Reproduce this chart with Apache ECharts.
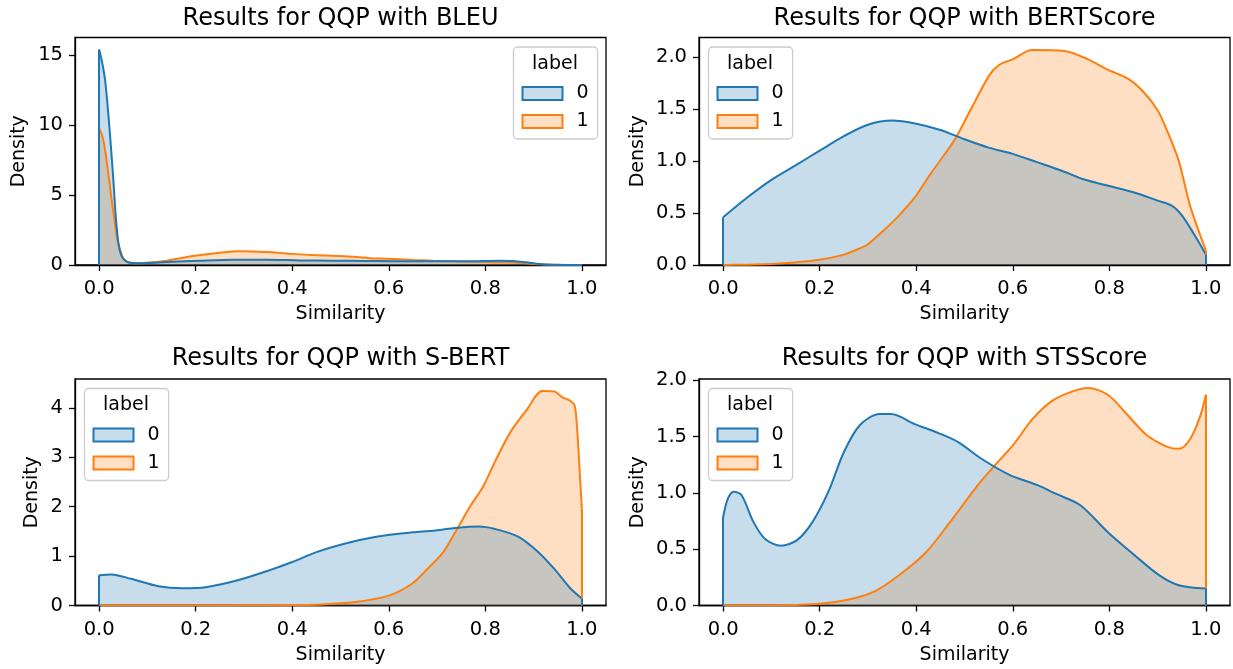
<!DOCTYPE html>
<html><head><meta charset="utf-8">
<script src="https://cdn.jsdelivr.net/npm/echarts@6/dist/echarts.min.js"></script>
<style>html,body{margin:0;padding:0;background:#fff}#c{width:1233px;height:669px}</style>
</head><body><div id="c"></div>
<script>
const titles = ['Results for QQP with BLEU', 'Results for QQP with BERTScore', 'Results for QQP with S-BERT', 'Results for QQP with STSScore'];
const labels = ['0', '1'];
const xTicks = [0, 0.2, 0.4, 0.6, 0.8, 1.0];
const yTicksBleu = [0, 5, 10, 15];
const yTicksBert = [0, 0.5, 1.0, 1.5, 2.0];
const yTicksSbert = [0, 1, 2, 3, 4];
const yTicksSts = [0, 0.5, 1.0, 1.5, 2.0];
const yMaxes = [16.26, 2.19, 4.585, 2.01];

// BLEU
const bleuX0 = [0, 0.0055, 0.0124, 0.019, 0.025, 0.030, 0.0345, 0.040, 0.047, 0.057, 0.068, 0.08, 0.1, 0.14, 0.209, 0.278, 0.347, 0.416, 0.485, 0.554, 0.623, 0.692, 0.76, 0.83, 0.858, 0.885, 0.913, 0.94, 0.97, 1.0];
const bleuY0 = [15.4, 14.6, 13.2, 10.8, 8.2, 5.8, 3.45, 1.55, 0.6, 0.24, 0.15, 0.13, 0.14, 0.21, 0.31, 0.38, 0.38, 0.33, 0.31, 0.29, 0.26, 0.26, 0.26, 0.31, 0.29, 0.19, 0.07, 0.02, 0.005, 0.0];
const bleuX1 = [0, 0.007, 0.0124, 0.019, 0.026, 0.0317, 0.0366, 0.0435, 0.050, 0.061, 0.071, 0.08, 0.1, 0.14, 0.195, 0.264, 0.29, 0.347, 0.388, 0.44, 0.499, 0.54, 0.568, 0.595, 0.65, 0.692, 0.76, 0.80, 0.844, 0.878, 0.913, 0.94, 0.97, 1.0];
const bleuY1 = [9.76, 9.17, 8.2, 6.55, 4.64, 3.2, 2.0, 1.07, 0.48, 0.17, 0.12, 0.12, 0.17, 0.31, 0.64, 0.93, 0.98, 0.93, 0.83, 0.71, 0.64, 0.55, 0.47, 0.45, 0.36, 0.31, 0.24, 0.21, 0.19, 0.14, 0.05, 0.02, 0.005, 0.0];

// BERTScore
const bertX0 = [0, 0.05, 0.1, 0.15, 0.2, 0.25, 0.3, 0.35, 0.4, 0.45, 0.5, 0.55, 0.6, 0.65, 0.7, 0.75, 0.8, 0.85, 0.9, 0.93, 0.95, 0.975, 1.0];
const bertY0 = [0.46, 0.65, 0.82, 0.96, 1.10, 1.24, 1.35, 1.39, 1.36, 1.30, 1.21, 1.13, 1.07, 0.99, 0.91, 0.82, 0.76, 0.70, 0.62, 0.57, 0.48, 0.30, 0.10];
const bertX1 = [0, 0.05, 0.1, 0.15, 0.2, 0.25, 0.283, 0.3, 0.332, 0.365, 0.397, 0.43, 0.479, 0.511, 0.552, 0.573, 0.6, 0.64, 0.707, 0.756, 0.797, 0.84, 0.87, 0.9, 0.92, 0.944, 0.968, 1.0];
const bertY1 = [0.0, 0.003, 0.01, 0.025, 0.05, 0.10, 0.16, 0.20, 0.33, 0.48, 0.65, 0.88, 1.20, 1.48, 1.83, 1.93, 1.98, 2.07, 2.06, 1.98, 1.88, 1.79, 1.67, 1.49, 1.29, 1.0, 0.56, 0.14];

// S-BERT
const sbertX0 = [0, 0.025, 0.066, 0.123, 0.172, 0.221, 0.287, 0.352, 0.40, 0.45, 0.508, 0.574, 0.639, 0.697, 0.738, 0.787, 0.82, 0.869, 0.91, 0.943, 0.975, 1.0];
const sbertY0 = [0.61, 0.63, 0.54, 0.39, 0.35, 0.37, 0.51, 0.71, 0.88, 1.08, 1.25, 1.39, 1.47, 1.52, 1.57, 1.60, 1.55, 1.39, 1.08, 0.74, 0.36, 0.14];
const sbertX1 = [0, 0.1, 0.2, 0.3, 0.4, 0.45, 0.53, 0.6, 0.648, 0.68, 0.713, 0.738, 0.77, 0.795, 0.82, 0.852, 0.885, 0.918, 0.943, 0.959, 0.975, 0.985, 0.99, 0.995, 1.0];
const sbertY1 = [0, 0, 0.001, 0.003, 0.008, 0.015, 0.07, 0.20, 0.44, 0.74, 1.08, 1.49, 2.03, 2.40, 2.91, 3.51, 3.95, 4.34, 4.33, 4.22, 4.15, 4.05, 3.6, 2.8, 1.96];

// STSScore
const stsX0 = [0, 0.01, 0.022, 0.038, 0.063, 0.087, 0.12, 0.153, 0.185, 0.218, 0.25, 0.283, 0.324, 0.348, 0.397, 0.446, 0.487, 0.536, 0.593, 0.65, 0.69, 0.74, 0.797, 0.854, 0.903, 0.944, 1.0];
const stsY0 = [0.785, 0.95, 1.01, 0.98, 0.74, 0.59, 0.53, 0.58, 0.74, 1.01, 1.36, 1.60, 1.70, 1.70, 1.61, 1.53, 1.45, 1.30, 1.16, 1.07, 0.99, 0.89, 0.65, 0.44, 0.27, 0.18, 0.15];
const stsX1 = [0, 0.1, 0.15, 0.2, 0.267, 0.316, 0.365, 0.42, 0.47, 0.528, 0.56, 0.6, 0.642, 0.683, 0.724, 0.756, 0.797, 0.838, 0.878, 0.919, 0.944, 0.968, 0.989, 1.0];
const stsY1 = [0, 0.001, 0.005, 0.015, 0.06, 0.13, 0.27, 0.47, 0.74, 1.07, 1.23, 1.42, 1.66, 1.82, 1.90, 1.93, 1.87, 1.69, 1.51, 1.41, 1.39, 1.48, 1.69, 1.87];

const plots = [
  { x0: bleuX0, y0: bleuY0, x1: bleuX1, y1: bleuY1, yTicks: yTicksBleu, dec: 0 },
  { x0: bertX0, y0: bertY0, x1: bertX1, y1: bertY1, yTicks: yTicksBert, dec: 1 },
  { x0: sbertX0, y0: sbertY0, x1: sbertX1, y1: sbertY1, yTicks: yTicksSbert, dec: 0 },
  { x0: stsX0, y0: stsY0, x1: stsX1, y1: stsY1, yTicks: yTicksSts, dec: 1 }
];

const FONT = 'DejaVu Sans';
const C0 = '#1f77b4', C1 = '#ff7f0e';
const F0 = 'rgba(31,119,180,0.25)', F1 = 'rgba(255,127,14,0.25)';
const gridPos = [
  { left: 75, top: 37.5, width: 531, height: 227.5 },
  { left: 699, top: 37.5, width: 531, height: 227.5 },
  { left: 75, top: 379, width: 531, height: 226.5 },
  { left: 699, top: 379, width: 531, height: 226.5 }
];
const densityGap = [46, 51, 33, 51];
const legendPos = [
  { left: 513.5, top: 47 },
  { left: 708.5, top: 47 },
  { left: 84.5, top: 388.5 },
  { left: 708.5, top: 388.5 }
];
const LEG_W = 83;

const chart = echarts.init(document.getElementById('c'), null, { renderer: 'canvas' });

const grid = gridPos.map(g => Object.assign({ show: true, borderColor: '#000', borderWidth: 1.3, containLabel: false }, g));
const xAxis = plots.map((p, i) => ({
  type: 'value', gridIndex: i, min: -0.05, max: 1.05,
  axisLine: { show: true, onZero: false, lineStyle: { color: '#000', width: 1.3 } },
  axisTick: { show: true, length: 6, customValues: xTicks, lineStyle: { color: '#000', width: 1.3 } },
  axisLabel: { customValues: xTicks, formatter: v => v.toFixed(1), fontSize: 19.5, fontFamily: FONT, color: '#000', margin: 14 },
  splitLine: { show: false },
  name: 'Similarity', nameLocation: 'middle', nameGap: 40,
  nameTextStyle: { fontSize: 19, fontFamily: FONT, color: '#000' }
}));
const yAxis = plots.map((p, i) => ({
  type: 'value', gridIndex: i, min: 0, max: yMaxes[i],
  axisLine: { show: true, onZero: false, lineStyle: { color: '#000', width: 1.3 } },
  axisTick: { show: true, length: 6, customValues: p.yTicks, lineStyle: { color: '#000', width: 1.3 } },
  axisLabel: { customValues: p.yTicks, formatter: v => v.toFixed(p.dec), fontSize: 19.5, fontFamily: FONT, color: '#000', margin: 12 },
  splitLine: { show: false },
  name: 'Density', nameLocation: 'middle', nameGap: densityGap[i],
  nameTextStyle: { fontSize: 19, fontFamily: FONT, color: '#000' }
}));

function edgeLines(xs, ys, color) {
  const n = xs.length - 1;
  return {
    silent: true, symbol: ['none', 'none'], animation: false,
    label: { show: false },
    lineStyle: { color: color, width: 2, type: 'solid', opacity: 1 },
    emphasis: { disabled: true },
    data: [
      [{ coord: [xs[0], 0] }, { coord: [xs[0], ys[0]] }],
      [{ coord: [xs[n], 0] }, { coord: [xs[n], ys[n]] }]
    ]
  };
}

const series = [];
plots.forEach((p, i) => {
  // label 1 first (drawn below), label 0 on top
  [[labels[1], p.x1, p.y1, C1, F1], [labels[0], p.x0, p.y0, C0, F0]].forEach(([name, xs, ys, c, f]) => {
    series.push({
      type: 'line', name: name, xAxisIndex: i, yAxisIndex: i,
      data: xs.map((x, k) => [x, ys[k]]),
      smooth: 0.3, symbol: 'none', showSymbol: false,
      lineStyle: { color: c, width: 2 },
      itemStyle: { color: c },
      areaStyle: { color: f, opacity: 1 },
      emphasis: { disabled: true },
      markLine: edgeLines(xs, ys, c),
      animation: false
    });
  });
});

const legend = legendPos.map(lp => ({
  orient: 'vertical', left: lp.left, top: lp.top,
  padding: [37, 9, 8, 8], itemWidth: 40, itemHeight: 13, itemGap: 9,
  backgroundColor: 'rgba(255,255,255,0.8)', borderColor: '#cccccc', borderWidth: 1.3, borderRadius: 4,
  selectedMode: false,
  textStyle: { fontSize: 19, fontFamily: FONT, color: '#000', padding: [0, 0, 0, 9] },
  data: [
    { name: labels[0], icon: 'rect', itemStyle: { color: F0, borderColor: C0, borderWidth: 2 } },
    { name: labels[1], icon: 'rect', itemStyle: { color: F1, borderColor: C1, borderWidth: 2 } }
  ]
}));

const title = titles.map((t, i) => ({
  text: t, left: gridPos[i].left + gridPos[i].width / 2, top: i < 2 ? 7 : 347, textAlign: 'center',
  padding: 0,
  textStyle: { fontSize: 24, fontWeight: 'normal', fontFamily: FONT, color: '#000' }
}));

const graphic = legendPos.map(lp => ({
  type: 'text', x: lp.left + LEG_W / 2, y: lp.top + 17, z: 100,
  style: { text: 'label', fontSize: 19, fontFamily: FONT, fill: '#000', textAlign: 'center', textVerticalAlign: 'middle' }
}));

chart.setOption({
  animation: false,
  backgroundColor: '#fff',
  title, grid, xAxis, yAxis, series, legend, graphic
});
</script></body></html>
